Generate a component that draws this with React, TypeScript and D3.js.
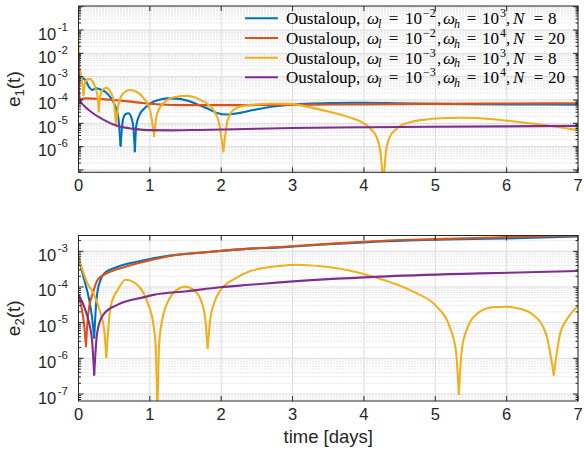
import React from 'react';
import * as d3 from 'd3';

// ---------- data ----------
const dayTicks = [0, 1, 2, 3, 4, 5, 6, 7];
const colors = ['#0072BD', '#D95319', '#EDB120', '#7E2F8E'];
const legendWl = ['\u22122', '\u22122', '\u22123', '\u22123'];
const legendWh = ['3', '4', '3', '4'];
const legendN = ['8', '20', '8', '20'];

const e1Exps = [-1, -2, -3, -4, -5, -6];
const e2Exps = [-3, -4, -5, -6, -7];

// e1 (top panel)
const e1BlueT = [0, 0.015, 0.05, 0.09, 0.15, 0.19, 0.25, 0.31, 0.38, 0.45, 0.52, 0.56, 0.59, 0.62, 0.66, 0.7, 0.74, 0.77, 0.79, 0.81, 0.86, 0.93, 1.02, 1.12, 1.24, 1.38, 1.52, 1.66, 1.8, 1.94, 2.08, 2.2, 2.45, 2.7, 2.9, 3.2, 3.6, 4.0, 4.5, 5.0, 6.0, 7.0];
const e1BlueV = [6.3e-3, 1.0e-3, 8.9e-4, 7.6e-4, 3.5e-4, 2.7e-4, 3.2e-4, 2.8e-4, 2.2e-4, 1.26e-4, 5.0e-5, 1.6e-5, 1.1e-6, 1.26e-5, 2.5e-5, 2.7e-5, 1.8e-5, 6.3e-6, 6.3e-7, 7.9e-6, 2.5e-5, 4.5e-5, 7.6e-5, 1.0e-4, 1.17e-4, 1.15e-4, 9.5e-5, 6.6e-5, 4.4e-5, 2.8e-5, 2.4e-5, 2.6e-5, 3.7e-5, 5.1e-5, 6.0e-5, 6.9e-5, 7.4e-5, 7.6e-5, 7.2e-5, 6.8e-5, 6.5e-5, 6.3e-5];

const e1OrangeT = [0, 0.05, 0.1, 0.3, 0.5, 0.7, 0.9, 1.1, 1.5, 2.0, 3.0, 4.0, 5.0, 6.0, 7.0];
const e1OrangeV = [1.0e-4, 1.12e-4, 1.17e-4, 1.12e-4, 1.0e-4, 8.7e-5, 7.4e-5, 6.6e-5, 6.0e-5, 6.0e-5, 6.2e-5, 6.5e-5, 6.8e-5, 7.1e-5, 7.2e-5];

const e1YellowT = [0, 0.01, 0.03, 0.05, 0.07, 0.09, 0.12, 0.16, 0.2, 0.24, 0.27, 0.285, 0.3, 0.33, 0.39, 0.44, 0.49, 0.525, 0.56, 0.62, 0.72, 0.82, 0.92, 1.0, 1.06, 1.1, 1.2, 1.35, 1.52, 1.68, 1.82, 1.9, 1.97, 2.03, 2.09, 2.16, 2.26, 2.45, 2.7, 2.95, 3.2, 3.5, 3.8, 4.0, 4.1, 4.18, 4.23, 4.27, 4.31, 4.36, 4.47, 4.65, 4.9, 5.2, 5.4, 5.8, 6.2, 6.6, 7.0];
const e1YellowV = [3.2e-2, 3.2e-3, 1.4e-3, 6.3e-4, 1.6e-4, 5.0e-4, 7.6e-4, 7.9e-4, 6.0e-4, 3.2e-4, 1.26e-4, 3.2e-5, 1.12e-4, 2.5e-4, 3.3e-4, 2.5e-4, 1.0e-4, 8.9e-6, 6.3e-5, 1.8e-4, 2.7e-4, 2.2e-4, 1.12e-4, 4.0e-5, 2.8e-6, 2.5e-5, 7.9e-5, 1.35e-4, 1.5e-4, 1.12e-4, 6.3e-5, 3.5e-5, 1.0e-5, 6.3e-7, 1.4e-5, 3.5e-5, 5.1e-5, 6.3e-5, 6.9e-5, 6.8e-5, 5.2e-5, 3.2e-5, 1.8e-5, 1.0e-5, 5.6e-6, 2.5e-6, 6.3e-7, 2.5e-8, 6.3e-7, 2.5e-6, 6.3e-6, 1.12e-5, 1.5e-5, 1.7e-5, 1.74e-5, 1.5e-5, 1.12e-5, 7.9e-6, 5.1e-6];

const e1PurpleT = [0, 0.005, 0.02, 0.08, 0.17, 0.36, 0.55, 0.78, 1.0, 1.3, 1.7, 2.2, 3.0, 4.0, 5.0, 6.0, 7.0];
const e1PurpleV = [7.2e-3, 3.2e-4, 1.0e-4, 5.6e-5, 3.2e-5, 1.38e-5, 7.6e-6, 5.8e-6, 5.1e-6, 5.0e-6, 5.2e-6, 5.6e-6, 6.3e-6, 6.8e-6, 7.1e-6, 7.4e-6, 7.8e-6];

// e2 (bottom panel)
const e2BlueT = [0, 0.08, 0.15, 0.19, 0.22, 0.25, 0.27, 0.3, 0.36, 0.55, 0.82, 1.28, 1.75, 2.36, 2.82, 3.5, 4.0, 5.0, 6.0, 7.0];
const e2BlueV = [6.6e-4, 1.6e-4, 4.4e-5, 1.4e-5, 3.8e-6, 4.0e-5, 8.3e-5, 1.4e-4, 2.4e-4, 3.7e-4, 5.1e-4, 7.6e-4, 9.3e-4, 1.17e-3, 1.29e-3, 1.58e-3, 1.78e-3, 2.1e-3, 2.3e-3, 2.6e-3];

const e2OrangeT = [0, 0.04, 0.075, 0.105, 0.125, 0.15, 0.2, 0.27, 0.41, 0.64, 0.92, 1.28, 1.75, 2.36, 2.82, 3.5, 4.0, 5.0, 6.0, 7.0];
const e2OrangeV = [5.4e-5, 2.8e-5, 1.0e-5, 2.2e-6, 1.0e-5, 2.8e-5, 6.6e-5, 1.6e-4, 2.5e-4, 3.6e-4, 5.1e-4, 7.4e-4, 9.3e-4, 1.17e-3, 1.32e-3, 1.62e-3, 1.86e-3, 2.2e-3, 2.5e-3, 2.8e-3];

const e2YellowT = [0, 0.126, 0.22, 0.31, 0.36, 0.39, 0.42, 0.45, 0.55, 0.66, 0.8, 0.96, 1.05, 1.08, 1.106, 1.13, 1.17, 1.28, 1.42, 1.49, 1.6, 1.7, 1.77, 1.81, 1.85, 1.9, 1.98, 2.21, 2.4, 2.82, 3.06, 3.4, 3.76, 4.13, 4.69, 5.02, 5.2, 5.29, 5.33, 5.37, 5.44, 5.62, 5.8, 6.0, 6.2, 6.37, 6.55, 6.66, 6.75, 6.84, 7.0];
const e2YellowV = [6.6e-4, 1.26e-4, 6.0e-5, 1.8e-5, 6.3e-6, 1.1e-6, 7.9e-6, 2.8e-5, 8.3e-5, 1.6e-4, 1.26e-4, 4.0e-5, 8.7e-6, 2.5e-6, 3.2e-8, 2.5e-6, 1.1e-5, 4.9e-5, 9.3e-5, 1.02e-4, 8.7e-5, 5.0e-5, 1.6e-5, 1.95e-6, 1.4e-5, 3.5e-5, 7.6e-5, 1.8e-4, 2.75e-4, 3.9e-4, 4.2e-4, 3.8e-4, 3.0e-4, 1.95e-4, 7.4e-5, 2.8e-5, 7.8e-6, 1.6e-6, 1.0e-7, 1.6e-6, 6.3e-6, 2.0e-5, 2.7e-5, 2.8e-5, 2.4e-5, 1.66e-5, 5.0e-6, 3.5e-7, 5.0e-6, 1.2e-5, 2.95e-5];

const e2PurpleT = [0, 0.08, 0.15, 0.19, 0.22, 0.25, 0.29, 0.36, 0.55, 0.92, 1.05, 1.52, 1.98, 2.4, 2.82, 4.22, 5.62, 7.0];
const e2PurpleV = [6.0e-5, 2.8e-5, 9.5e-6, 3.2e-6, 3.5e-7, 3.2e-6, 9.5e-6, 1.8e-5, 3.2e-5, 5.2e-5, 6.0e-5, 7.6e-5, 9.8e-5, 1.15e-4, 1.35e-4, 1.95e-4, 2.4e-4, 2.8e-4];

// ---------- layout ----------
const W = 584, H = 460;
const X0 = 78.5, X1 = 578;
const SANS = '"Liberation Sans", Arial, Helvetica, sans-serif';
const SERIF = '"Liberation Serif", "DejaVu Serif", serif';
const AX = '#262626';

type Pt = [number, number];

function splitAtCusps(t: number[], v: number[]): Pt[][] {
  const segs: Pt[][] = [];
  let cur: Pt[] = [];
  for (let i = 0; i < t.length; i++) {
    cur.push([t[i], v[i]]);
    if (i > 0 && i < t.length - 1 && v[i] < v[i - 1] / 2 && v[i] < v[i + 1] / 2) {
      segs.push(cur);
      cur = [[t[i], v[i]]];
    }
  }
  segs.push(cur);
  return segs;
}

interface PanelProps {
  id: string;
  top: number;
  bottom: number;
  lo: number;
  hi: number;
  exps: number[];
  sub: string;
  series: { t: number[]; v: number[] }[];
}

function Panel({ id, top, bottom, lo, hi, exps, sub, series }: PanelProps) {
  const x = d3.scaleLinear().domain([0, 7]).range([X0, X1]);
  const y = d3.scaleLog().domain([lo, hi]).range([bottom, top]);
  const line = d3
    .line<Pt>()
    .x((d) => x(d[0]))
    .y((d) => y(d[1]))
    .curve(d3.curveMonotoneX);

  const kLo = Math.floor(Math.log10(lo));
  const kHi = Math.ceil(Math.log10(hi));
  const majors: number[] = [];
  const minors: number[] = [];
  for (let k = kLo; k <= kHi; k++) {
    const base = Math.pow(10, k);
    if (base >= lo && base <= hi) majors.push(base);
    for (let m = 2; m <= 9; m++) {
      const v = m * base;
      if (v >= lo && v <= hi) minors.push(v);
    }
  }
  const cy = (top + bottom) / 2;

  return (
    <g>
      <defs>
        <clipPath id={id}>
          <rect x={X0} y={top} width={X1 - X0} height={bottom - top} />
        </clipPath>
      </defs>
      <rect x={X0} y={top} width={X1 - X0} height={bottom - top} fill="#fff" />
      {minors.map((v, i) => (
        <line key={'mg' + i} x1={X0} x2={X1} y1={y(v)} y2={y(v)} stroke="#c4c4c4" strokeWidth={0.8} strokeDasharray="1 2" />
      ))}
      {majors.map((v, i) => (
        <line key={'Mg' + i} x1={X0} x2={X1} y1={y(v)} y2={y(v)} stroke="#dcdcdc" strokeWidth={1} />
      ))}
      {dayTicks.map((d, i) => (
        <line key={'xg' + i} x1={x(d)} x2={x(d)} y1={top} y2={bottom} stroke="#dcdcdc" strokeWidth={1} />
      ))}
      <g clipPath={`url(#${id})`}>
        {series.map((s, si) =>
          splitAtCusps(s.t, s.v).map((seg, j) => (
            <path key={si + '-' + j} d={line(seg) || ''} fill="none" stroke={colors[si]} strokeWidth={2.1} strokeLinejoin="round" strokeLinecap="round" />
          ))
        )}
      </g>
      <rect x={X0} y={top} width={X1 - X0} height={bottom - top} fill="none" stroke={AX} strokeWidth={1} />
      {majors.map((v, i) => (
        <g key={'yt' + i}>
          <line x1={X0} x2={X0 + 5} y1={y(v)} y2={y(v)} stroke={AX} />
          <line x1={X1} x2={X1 - 5} y1={y(v)} y2={y(v)} stroke={AX} />
        </g>
      ))}
      {minors.map((v, i) => (
        <g key={'ymt' + i}>
          <line x1={X0} x2={X0 + 2.5} y1={y(v)} y2={y(v)} stroke={AX} />
          <line x1={X1} x2={X1 - 2.5} y1={y(v)} y2={y(v)} stroke={AX} />
        </g>
      ))}
      {dayTicks.map((d, i) => (
        <g key={'xt' + i}>
          <line x1={x(d)} x2={x(d)} y1={bottom} y2={bottom - 5} stroke={AX} />
          <line x1={x(d)} x2={x(d)} y1={top} y2={top + 5} stroke={AX} />
          <text x={x(d)} y={bottom + 19} textAnchor="middle" fontFamily={SANS} fontSize={16.5} fill={AX}>
            {d}
          </text>
        </g>
      ))}
      {exps.map((e, i) => (
        <text key={'yl' + i} x={68} y={y(Math.pow(10, e)) + 9.5} textAnchor="end" fontFamily={SANS} fontSize={16.5} fill={AX}>
          <tspan>10</tspan>
          <tspan dy={-8.8} fontSize={11.5} dx={1.5}>{'-' + Math.abs(e)}</tspan>
        </text>
      ))}
      <text transform={`translate(20, ${cy}) rotate(-90)`} textAnchor="middle" fontFamily={SANS} fontSize={19} fill={AX}>
        <tspan>e</tspan>
        <tspan fontSize={13} dy={4}>{sub}</tspan>
        <tspan dy={-4}>(t)</tspan>
      </text>
    </g>
  );
}

function LegendRow({ i, cy }: { i: number; cy: number }) {
  const tx = 286;
  const by = cy + 6;
  const fs = 17;
  const ss = 12;
  return (
    <g>
      <line x1={245} x2={278} y1={cy} y2={cy} stroke={colors[i]} strokeWidth={2.1} />
      <g fontFamily={SERIF} fontSize={fs} fill="#000">
        <text x={tx} y={by}>Oustaloup,</text>
        <text x={tx + 81} y={by} fontStyle="italic">ω</text>
        <text x={tx + 92} y={by + 3.5} fontStyle="italic" fontSize={ss}>l</text>
        <text x={tx + 107.5} y={by} textAnchor="middle">=</text>
        <text x={tx + 119} y={by}>10</text>
        <text x={tx + 137} y={by - 7} fontSize={ss}>{legendWl[i]}</text>
        <text x={tx + 151} y={by}>,</text>
        <text x={tx + 157} y={by} fontStyle="italic">ω</text>
        <text x={tx + 168} y={by + 3.5} fontStyle="italic" fontSize={ss}>h</text>
        <text x={tx + 185.5} y={by} textAnchor="middle">=</text>
        <text x={tx + 196} y={by}>10</text>
        <text x={tx + 214} y={by - 7} fontSize={ss}>{legendWh[i]}</text>
        <text x={tx + 220} y={by}>,</text>
        <text x={tx + 227} y={by} fontStyle="italic">N</text>
        <text x={tx + 252.5} y={by} textAnchor="middle">=</text>
        <text x={tx + 262} y={by}>{legendN[i]}</text>
      </g>
    </g>
  );
}

export default function App() {
  const e1Series = [
    { t: e1BlueT, v: e1BlueV },
    { t: e1OrangeT, v: e1OrangeV },
    { t: e1YellowT, v: e1YellowV },
    { t: e1PurpleT, v: e1PurpleV },
  ];
  const e2Series = [
    { t: e2BlueT, v: e2BlueV },
    { t: e2OrangeT, v: e2OrangeV },
    { t: e2YellowT, v: e2YellowV },
    { t: e2PurpleT, v: e2PurpleV },
  ];
  const legendY = [18.3, 38.0, 57.7, 77.3];
  return (
    <svg width={W} height={H} style={{ position: 'absolute', left: 0, top: 0, background: '#fff' }}>
      <rect x={0} y={0} width={W} height={H} fill="#fff" />
      <Panel id="clipTop" top={6} bottom={172.3} lo={Math.pow(10, -7.1)} hi={Math.pow(10, 0.03)} exps={e1Exps} sub="1" series={e1Series} />
      <Panel id="clipBot" top={235.5} bottom={401} lo={Math.pow(10, -7.196)} hi={Math.pow(10, -2.557)} exps={e2Exps} sub="2" series={e2Series} />
      {legendY.map((cy, i) => (
        <LegendRow key={i} i={i} cy={cy} />
      ))}
      <text x={(X0 + X1) / 2} y={443} textAnchor="middle" fontFamily={SANS} fontSize={18.5} fill={AX}>
        time [days]
      </text>
    </svg>
  );
}
